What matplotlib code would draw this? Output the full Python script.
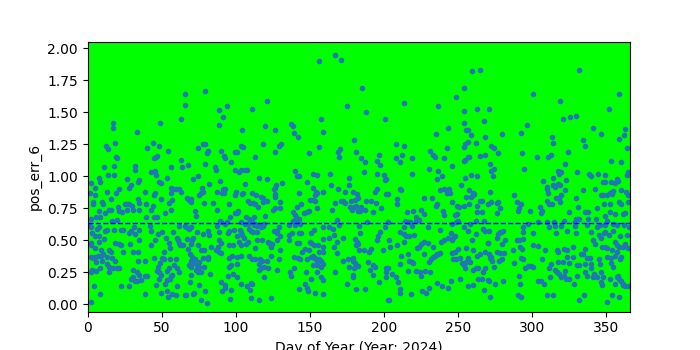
import matplotlib
matplotlib.use("Agg")
import matplotlib.pyplot as plt
import numpy as np

# values, split by stretch of the year
days_a = [17.0,17.4,18.4,12.5,13.6,19.3,19.7,11.4,18.1,32.3,
          32.3,2.2,7.6,8.5,13.6,18.1,5.3,1.7,21.5,26.9,
          29.2,28.3,5.3,13.0,19.3,4.0,9.8,15.7,3.5,10.3,
          20.6,25.1,26.9,28.3,30.1,30.5,8.0,14.3,15.7,21.5,
          23.3,26.9,2.6,5.8,8.5,11.6,16.6,19.7,1.3,2.6,
          6.2,8.0,11.6,13.0,17.9,22.4,23.8,28.3,29.6,31.4,
          32.3,3.1,8.0,5.3,2.6,8.0,11.2,18.8,21.5,22.4,
          28.7,4.9,2.6,8.9,14.8,16.1,24.2,31.0,2.2,4.9,
          7.1,8.9,10.7,3.5,13.0,16.6,5.8,9.8,13.4,18.8,
          3.1,8.5,14.8,17.0,19.7,21.5,2.2,5.8,14.8,30.5,
          30.5,29.6,31.9,4.4,22.4,27.8,8.5,2.2]
err_a = [1.42,1.38,1.26,1.24,1.21,1.15,1.14,1.07,1.08,1.08,
         1.05,0.95,0.99,0.955,1.01,1.01,0.91,0.87,0.90,0.98,
         0.93,0.91,0.85,0.88,0.87,0.80,0.80,0.82,0.78,0.78,
         0.76,0.78,0.78,0.78,0.77,0.74,0.73,0.74,0.74,0.73,
         0.72,0.74,0.67,0.68,0.68,0.71,0.65,0.66,0.617,0.60,
         0.59,0.60,0.57,0.58,0.58,0.58,0.58,0.56,0.57,0.60,
         0.55,0.555,0.53,0.53,0.48,0.49,0.51,0.48,0.47,0.46,
         0.47,0.44,0.46,0.425,0.42,0.41,0.41,0.41,0.37,0.37,
         0.38,0.38,0.39,0.36,0.37,0.36,0.33,0.34,0.315,0.34,
         0.27,0.28,0.29,0.28,0.28,0.28,0.25,0.26,0.25,0.27,
         0.21,0.20,0.18,0.14,0.14,0.14,0.08,0.02]

days_b = [66.0,65.6,63.3,48.9,33.6,44.4,48.5,40.4,54.3,46.2,
          47.1,44.9,63.3,56.6,63.8,43.1,45.8,46.2,53.9,35.0,
          34.1,48.5,49.8,56.1,57.9,59.7,62.0,63.3,39.0,45.8,
          44.9,56.1,57.0,49.8,55.2,34.1,34.5,39.5,44.4,35.0,
          42.6,56.1,52.1,39.5,44.9,47.1,42.2,43.1,47.6,50.3,
          57.9,61.5,65.6,34.5,53.0,45.8,34.5,60.1,61.1,54.8,
          62.0,62.4,64.7,43.1,55.7,51.6,34.1,39.0,44.9,50.3,
          51.6,55.7,59.7,58.4,60.6,62.0,34.1,48.9,47.6,47.1,
          48.5,49.4,48.0,54.8,53.9,57.0,56.6,55.7,33.6,34.5,
          38.6,40.4,33.6,36.3,53.9,46.2,52.5,60.6,39.0,49.8,
          53.4,54.3,57.0,59.7,66.0]
err_b = [1.64,1.56,1.45,1.42,1.35,1.26,1.24,1.22,1.20,1.15,
         1.16,1.14,1.13,1.07,1.07,1.03,1.04,1.01,0.99,0.97,
         0.955,0.955,0.945,0.91,0.90,0.90,0.90,0.88,0.88,0.87,
         0.85,0.87,0.815,0.825,0.79,0.82,0.79,0.78,0.77,0.74,
         0.74,0.74,0.71,0.68,0.68,0.68,0.61,0.575,0.55,0.565,
         0.565,0.61,0.61,0.58,0.52,0.50,0.50,0.52,0.50,0.48,
         0.48,0.46,0.46,0.46,0.44,0.41,0.41,0.34,0.36,0.36,
         0.35,0.35,0.35,0.305,0.28,0.25,0.34,0.32,0.29,0.26,
         0.25,0.23,0.20,0.28,0.26,0.23,0.22,0.20,0.25,0.23,
         0.22,0.22,0.18,0.19,0.19,0.15,0.155,0.14,0.08,0.09,
         0.10,0.06,0.08,0.07,0.07]

days_c = [79.6,94.4,89.0,91.7,89.0,74.6,77.8,79.6,81.4,80.9,
          90.4,92.2,92.6,99.8,97.1,99.4,67.9,79.6,86.3,86.8,
          71.0,74.6,82.3,89.5,67.4,68.8,69.7,70.1,75.5,76.9,
          77.8,77.3,87.7,91.3,92.6,92.2,90.8,78.7,84.5,95.3,
          99.8,72.4,73.3,87.7,99.8,89.5,89.9,93.1,94.0,96.2,
          66.5,68.8,69.7,73.7,77.8,81.4,82.3,95.3,94.9,89.0,
          87.7,98.9,67.4,71.0,70.6,69.7,74.6,76.4,78.7,83.6,
          89.0,90.4,88.1,86.8,89.0,90.4,95.3,98.0,97.6,95.8,
          67.9,69.2,70.6,70.1,72.8,75.1,74.2,75.5,73.3,77.8,
          81.4,81.4,68.3,69.7,71.5,78.7,95.3,97.1,94.9,74.6,
          76.4,82.7,69.7,98.0,69.2,90.4,92.6,90.8,93.1,97.1,
          75.5,71.9,71.0,66.5,79.1,76.9,80.5,96.2]
err_c = [1.67,1.55,1.52,1.46,1.40,1.22,1.25,1.25,1.20,1.18,
         1.20,1.16,1.14,1.19,1.11,1.05,1.09,1.10,1.07,1.05,
         0.98,1.00,0.94,0.96,0.83,0.815,0.825,0.80,0.85,0.87,
         0.88,0.91,0.88,0.90,0.90,0.87,0.87,0.79,0.79,0.78,
         0.85,0.73,0.69,0.74,0.71,0.65,0.64,0.63,0.64,0.68,
         0.60,0.59,0.60,0.565,0.55,0.57,0.54,0.575,0.555,0.565,
         0.61,0.58,0.51,0.52,0.50,0.47,0.46,0.42,0.425,0.45,
         0.50,0.48,0.45,0.425,0.41,0.40,0.46,0.46,0.38,0.36,
         0.435,0.39,0.37,0.34,0.35,0.33,0.31,0.29,0.27,0.36,
         0.37,0.35,0.305,0.29,0.32,0.29,0.29,0.305,0.22,0.25,
         0.25,0.24,0.23,0.24,0.175,0.17,0.15,0.10,0.13,0.11,
         0.15,0.09,0.08,0.07,0.10,0.035,0.01,0.04]

days_d = [120.9,111.0,119.6,126.8,104.3,118.7,129.5,130.4,103.4,104.7,
          126.8,113.3,101.1,102.5,103.8,106.1,107.9,116.0,120.9,131.3,
          127.2,126.3,125.9,106.5,100.2,105.2,104.3,111.0,113.7,117.3,
          118.2,126.8,126.3,108.3,109.7,111.5,112.8,115.1,121.4,118.2,
          129.9,129.9,126.8,124.9,101.6,100.7,107.0,109.2,112.4,120.0,
          103.8,106.1,108.3,111.0,112.4,113.3,114.2,116.9,118.2,119.1,
          102.9,103.8,109.2,110.1,111.5,114.6,116.9,129.0,128.1,125.9,
          127.6,129.9,101.1,104.3,105.6,108.3,114.2,117.8,121.8,122.7,
          123.6,127.6,102.0,103.4,107.0,113.3,103.4,101.1,109.2,111.0,
          113.3,116.4,117.8,124.5,123.6,124.1,121.4,129.0,129.9,100.7,
          116.0,116.9,116.0,119.1,121.8,127.6,101.1,103.8,107.9,110.6,
          111.0,119.1,109.7,110.1,116.0,123.6]
err_d = [1.59,1.53,1.39,1.36,1.36,1.25,1.24,1.25,1.24,1.23,
         1.19,1.15,1.19,1.03,1.05,1.05,1.05,0.99,0.98,0.95,
         0.93,0.91,0.90,0.94,0.88,0.87,0.86,0.87,0.85,0.84,
         0.83,0.86,0.84,0.81,0.79,0.79,0.78,0.76,0.81,0.80,
         0.80,0.75,0.75,0.74,0.73,0.71,0.68,0.67,0.68,0.69,
         0.64,0.63,0.63,0.64,0.62,0.63,0.61,0.62,0.61,0.63,
         0.58,0.565,0.59,0.575,0.565,0.565,0.60,0.60,0.575,0.57,
         0.56,0.53,0.53,0.54,0.52,0.49,0.50,0.50,0.49,0.48,
         0.47,0.50,0.49,0.46,0.47,0.44,0.38,0.37,0.38,0.35,
         0.35,0.35,0.34,0.47,0.45,0.38,0.34,0.35,0.42,0.315,
         0.315,0.28,0.27,0.29,0.28,0.27,0.21,0.16,0.14,0.165,
         0.155,0.21,0.11,0.05,0.035,0.045]

days_e = [156.4,167.2,157.8,137.5,138.4,139.3,142.0,159.1,156.4,149.7,
          140.2,141.1,142.5,151.9,155.1,163.6,164.5,148.3,152.4,142.9,
          154.2,155.1,159.1,153.3,151.9,150.1,153.7,166.8,165.0,141.6,
          144.3,154.6,138.4,139.8,140.7,142.9,146.1,147.9,149.2,138.9,
          135.7,140.2,143.4,142.0,159.1,162.7,165.9,152.8,150.6,142.9,
          144.3,138.0,136.2,136.2,163.2,166.3,158.7,141.6,142.9,150.1,
          151.0,152.8,155.5,158.7,166.3,147.0,149.2,144.7,156.0,159.1,
          139.3,142.0,143.4,147.9,150.6,151.9,152.8,153.7,154.6,156.4,
          157.8,151.9,155.1,157.3,159.1,139.3,136.6,137.0,147.4,151.0,
          155.1,157.3,159.1,167.2,146.5,147.9,142.9,148.7,153.7,159.1]
err_e = [1.90,1.95,1.45,1.41,1.39,1.34,1.31,1.35,1.23,1.18,
         1.04,1.00,1.00,1.02,1.01,1.02,0.93,0.955,0.91,0.87,
         0.88,0.87,0.88,0.85,0.815,0.815,0.81,0.79,0.74,0.76,
         0.78,0.75,0.72,0.695,0.68,0.67,0.71,0.72,0.73,0.65,
         0.62,0.62,0.63,0.65,0.60,0.60,0.59,0.58,0.56,0.555,
         0.56,0.555,0.545,0.50,0.52,0.54,0.51,0.48,0.48,0.49,
         0.48,0.46,0.46,0.45,0.445,0.43,0.42,0.41,0.41,0.41,
         0.37,0.36,0.35,0.35,0.37,0.38,0.36,0.36,0.34,0.35,
         0.34,0.305,0.305,0.29,0.315,0.28,0.25,0.22,0.25,0.20,
         0.25,0.21,0.19,0.25,0.16,0.13,0.12,0.10,0.09,0.08]

days_f = [171.3,185.2,174.9,187.9,201.0,179.9,181.2,184.8,187.5,196.5,
          195.6,197.4,169.1,170.4,170.0,186.6,195.6,200.1,200.6,201.5,
          176.7,176.7,169.1,174.0,179.4,182.1,182.6,193.8,195.2,194.7,
          171.3,172.7,174.0,178.1,180.3,177.2,178.5,179.9,181.2,182.6,
          183.9,184.8,187.5,187.9,191.1,192.9,198.3,201.5,168.6,169.5,
          183.0,183.9,188.9,200.6,197.4,196.1,195.2,168.6,172.7,180.3,
          181.7,181.2,182.6,183.4,168.6,172.2,175.8,176.3,179.0,179.4,
          180.3,179.9,182.6,179.4,179.4,186.6,189.8,191.1,199.2,189.3,
          192.9,193.8,190.7,192.9,196.5,201.5,201.5,201.5,175.4,181.2,
          187.0,202.4]
err_f = [1.91,1.69,1.55,1.50,1.45,1.28,1.19,1.14,1.11,1.17,
         1.12,1.09,1.19,1.21,1.15,1.03,1.02,1.01,0.97,0.98,
         0.99,0.93,0.90,0.88,0.88,0.86,0.83,0.88,0.90,0.79,
         0.81,0.81,0.79,0.81,0.815,0.76,0.74,0.76,0.77,0.73,
         0.73,0.76,0.74,0.81,0.81,0.72,0.75,0.86,0.66,0.62,
         0.61,0.56,0.64,0.60,0.565,0.53,0.50,0.49,0.52,0.51,
         0.49,0.46,0.47,0.425,0.40,0.34,0.35,0.29,0.36,0.34,
         0.32,0.28,0.30,0.23,0.21,0.42,0.41,0.435,0.42,0.33,
         0.31,0.29,0.27,0.23,0.17,0.28,0.25,0.21,0.16,0.12,
         0.12,0.035]

days_g = [259.1,264.9,254.1,213.2,236.6,248.7,254.1,263.1,242.9,234.8,
          254.1,255.5,256.8,258.6,267.2,268.5,261.8,256.8,254.6,254.1,
          207.8,213.2,231.2,232.9,234.3,242.4,245.6,240.6,208.2,212.3,
          210.5,218.6,255.0,256.4,257.7,254.1,264.5,268.5,230.7,236.6,
          236.1,239.3,219.0,255.0,258.6,263.1,210.9,211.8,202.8,209.1,
          209.1,226.7,232.1,237.5,240.6,242.4,244.2,244.7,242.4,243.3,
          246.0,249.2,250.5,253.7,252.3,257.7,259.9,260.9,258.6,255.5,
          257.3,260.4,264.5,266.3,263.1,263.1,266.3,270.3,234.8,235.7,
          239.7,240.2,249.6,247.8,215.4,219.9,225.3,227.1,221.3,223.5,
          221.7,214.1,215.9,217.7,202.8,219.0,245.6,248.7,250.0,258.2,
          261.8,267.6,210.9,213.6,213.6,214.9,217.2,220.4,229.4,237.5,
          240.2,238.8,242.9,245.6,245.1,246.5,247.8,253.7,256.8,259.1,
          262.2,266.7,268.1,203.7,204.1,209.1,213.2,211.4,222.2,223.9,
          225.3,226.7,229.4,232.9,227.1,236.6,245.6,247.8,250.0,255.5,
          260.4,263.1,264.9,268.5,270.3,202.8,205.1,210.5,216.3,217.2,
          218.6,219.9,230.7,231.6,232.9,234.3,235.7,237.5,246.9,248.7,
          251.4,252.7,254.1,255.5,256.8,258.2,221.3,224.4,224.9,228.0,
          231.2,216.3,255.0,260.4,261.8,263.6,266.7,268.5,208.2,209.6,
          210.9,210.5,218.1,230.7,235.7,239.3,243.3,245.1,251.0,256.4,
          259.9,263.6,266.3,267.2,269.9,225.8,228.5,203.3]
err_g = [1.82,1.83,1.69,1.57,1.55,1.62,1.51,1.53,1.38,1.33,
         1.42,1.36,1.36,1.32,1.43,1.31,1.26,1.27,1.25,1.23,
         1.25,1.24,1.20,1.17,1.15,1.22,1.08,1.14,1.14,1.17,
         1.11,1.14,1.13,1.15,1.15,1.12,1.16,1.17,1.06,1.04,
         0.98,1.00,1.02,0.99,1.01,1.00,0.90,0.89,0.86,0.825,
         0.78,0.83,0.83,0.89,0.90,0.89,0.90,0.87,0.87,0.88,
         0.80,0.77,0.76,0.77,0.93,0.89,0.87,0.86,0.84,0.84,
         0.78,0.85,0.81,0.81,0.77,0.72,0.72,0.78,0.77,0.78,
         0.73,0.70,0.705,0.695,0.72,0.73,0.74,0.705,0.685,0.66,
         0.65,0.65,0.64,0.64,0.64,0.61,0.63,0.64,0.65,0.63,
         0.65,0.65,0.565,0.60,0.55,0.53,0.53,0.54,0.60,0.58,
         0.50,0.49,0.52,0.50,0.56,0.52,0.53,0.60,0.575,0.50,
         0.55,0.59,0.575,0.50,0.45,0.46,0.49,0.38,0.44,0.45,
         0.47,0.49,0.48,0.45,0.39,0.39,0.40,0.41,0.43,0.44,
         0.425,0.38,0.39,0.41,0.48,0.28,0.24,0.315,0.39,0.34,
         0.33,0.325,0.33,0.35,0.37,0.38,0.39,0.40,0.35,0.35,
         0.36,0.325,0.305,0.33,0.36,0.33,0.26,0.25,0.22,0.26,
         0.25,0.26,0.28,0.27,0.28,0.28,0.25,0.28,0.21,0.175,
         0.12,0.09,0.08,0.13,0.165,0.14,0.13,0.185,0.20,0.14,
         0.15,0.20,0.20,0.11,0.19,0.10,0.09,0.035]

days_h = [331.9,300.8,318.8,321.1,325.6,329.6,271.1,296.8,292.7,279.7,
          313.4,314.3,334.6,335.9,272.5,274.3,276.9,293.2,303.5,310.7,
          313.0,324.2,271.6,272.0,274.3,273.8,294.5,322.4,317.5,318.4,
          319.7,330.5,313.9,317.5,318.8,322.9,307.6,309.8,309.8,310.7,
          313.9,315.7,317.9,319.3,322.4,334.1,271.6,272.0,287.8,290.0,
          277.0,276.5,278.3,292.7,291.4,290.5,298.6,305.3,306.7,306.2,
          309.8,311.6,313.4,316.1,318.8,329.6,330.9,335.5,337.7,325.1,
          276.1,329.6,331.4,328.7,271.1,276.9,278.3,279.2,280.1,276.1,
          281.9,279.7,297.2,300.4,293.6,294.0,293.6,303.9,310.3,311.6,
          314.8,315.7,321.5,319.3,316.1,323.8,329.1,329.6,336.8,289.6,
          291.4,291.8,293.1,300.4,303.9,308.9,316.6,317.5,321.5,323.3,
          327.8,335.9,333.2,334.1,270.2,271.1,278.3,281.0,279.7,277.9,
          287.3,287.8,271.6,272.5,274.3,276.1,272.9,292.7,293.6,294.9,
          297.2,299.5,300.8,306.7,312.9,317.5,321.1,323.3,325.1,327.8,
          330.1,331.9,335.5,336.8,315.2,316.6,317.9,319.7,321.5,322.9,
          325.1,322.0,328.3,330.5,335.5,336.8,290.9,312.0,311.6,291.8,
          280.6,275.2,271.1,303.9,305.8,308.0,314.3,290.5,292.7,271.6,
          310.3,331.9,335.0]
err_h = [1.83,1.64,1.59,1.45,1.46,1.47,1.53,1.40,1.34,1.33,
         1.31,1.26,1.28,1.24,1.24,1.22,1.18,1.18,1.15,1.15,
         1.17,1.19,1.10,1.04,1.06,1.00,1.06,1.10,1.04,1.02,
         1.03,1.03,0.99,0.94,0.93,0.97,0.96,0.92,0.90,0.87,
         0.93,0.92,0.83,0.85,0.89,0.89,0.88,0.80,0.85,0.80,
         0.80,0.79,0.75,0.78,0.75,0.73,0.73,0.76,0.73,0.71,
         0.81,0.78,0.78,0.83,0.80,0.83,0.76,0.72,0.67,0.72,
         0.71,0.67,0.67,0.64,0.57,0.55,0.565,0.565,0.57,0.52,
         0.50,0.47,0.63,0.56,0.60,0.565,0.51,0.64,0.64,0.60,
         0.64,0.61,0.65,0.61,0.56,0.57,0.61,0.56,0.62,0.50,
         0.50,0.45,0.43,0.46,0.455,0.42,0.42,0.41,0.43,0.42,
         0.45,0.43,0.39,0.39,0.48,0.39,0.40,0.40,0.35,0.34,
         0.42,0.325,0.36,0.37,0.29,0.41,0.34,0.36,0.35,0.28,
         0.30,0.30,0.29,0.35,0.315,0.33,0.33,0.37,0.325,0.37,
         0.305,0.31,0.315,0.36,0.27,0.25,0.24,0.21,0.22,0.20,
         0.20,0.26,0.16,0.22,0.25,0.22,0.22,0.21,0.28,0.16,
         0.185,0.16,0.185,0.185,0.185,0.155,0.07,0.07,0.06,0.055,
         0.07,0.03,0.07]

days_i = [358.4,351.7,341.3,346.3,362.9,362.0,364.3,358.4,353.0,359.8,
          364.7,363.8,338.6,339.5,344.5,349.0,347.6,349.0,353.0,357.1,
          357.9,356.2,342.7,346.3,347.6,350.8,352.6,353.9,354.8,359.8,
          363.4,364.7,352.6,358.4,359.8,364.7,348.5,337.7,344.0,352.6,
          355.7,361.6,362.9,348.9,343.1,345.8,348.9,344.0,350.8,354.8,
          357.5,362.0,365.2,340.0,340.9,344.9,346.3,348.5,349.4,352.1,
          354.3,359.3,363.8,342.7,347.2,349.0,350.3,350.3,353.9,355.7,
          357.1,358.9,360.2,361.6,362.5,364.7,339.1,339.5,344.9,345.8,
          353.0,353.0,354.3,356.2,357.5,359.3,339.8,341.8,344.0,341.3,
          346.7,348.0,347.2,346.3,352.6,356.2,357.9,358.9,359.8,361.1,
          362.5,364.7,361.6,357.5,353.9,358.9,350.8]
err_i = [1.64,1.53,1.38,1.33,1.37,1.32,1.22,1.29,1.12,1.11,
         1.03,1.01,1.02,1.00,1.02,1.01,0.955,0.955,0.955,0.98,
         0.96,0.945,0.90,0.85,0.855,0.855,0.87,0.86,0.885,0.89,
         0.875,0.85,0.78,0.80,0.78,0.80,0.78,0.72,0.75,0.72,
         0.705,0.705,0.71,0.69,0.67,0.62,0.62,0.60,0.65,0.63,
         0.62,0.62,0.60,0.565,0.50,0.54,0.52,0.56,0.565,0.54,
         0.575,0.535,0.54,0.47,0.445,0.45,0.44,0.37,0.425,0.49,
         0.46,0.445,0.37,0.445,0.47,0.44,0.36,0.315,0.35,0.315,
         0.36,0.325,0.29,0.375,0.41,0.35,0.28,0.24,0.21,0.21,
         0.25,0.21,0.15,0.17,0.20,0.16,0.22,0.20,0.18,0.15,
         0.14,0.14,0.16,0.21,0.07,0.06,0.02]

mean_err = 0.633  # dashed reference line

days = np.concatenate([days_a, days_b, days_c, days_d, days_e,
                       days_f, days_g, days_h, days_i])
pos_err = np.concatenate([err_a, err_b, err_c, err_d, err_e,
                          err_f, err_g, err_h, err_i])

fig, ax = plt.subplots(figsize=(7, 3.5), dpi=100)
ax.set_facecolor("lime")
ax.plot(days, pos_err, ".", color="C0", markersize=6)
ax.axhline(mean_err, color="b", linestyle="--", linewidth=1)
ax.set_xlim(0, 366)
ax.set_ylim(-0.057, 2.05)
ax.set_xlabel("Day of Year (Year: 2024)")
ax.set_ylabel("pos_err_6")
fig.savefig("out.png")
